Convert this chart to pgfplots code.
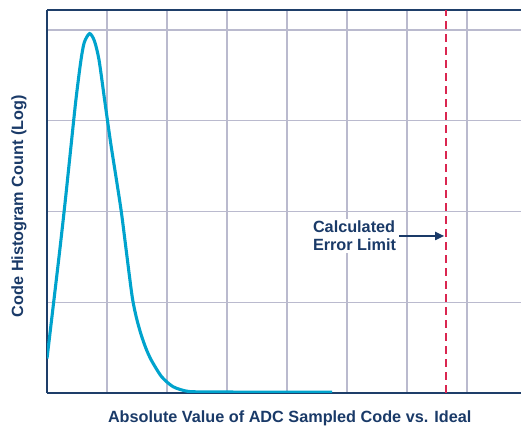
\documentclass[border=0pt]{standalone}
\usepackage{pgfplots}
\pgfplotsset{compat=1.18}
\usepackage{fontspec}
\setmainfont{Liberation Sans}[BoldFont={Liberation Sans Bold}]
\newfontfamily\labfont{Liberation Sans Bold}
\usetikzlibrary{arrows.meta}
\definecolor{navy}{RGB}{26,58,104}
\definecolor{spine}{RGB}{30,62,105}
\definecolor{gridc}{RGB}{186,186,206}
\definecolor{curve}{RGB}{0,163,205}
\definecolor{limit}{RGB}{218,38,80}
\begin{document}
\begin{tikzpicture}
\begin{axis}[
  at={(0,0)}, anchor=south west,
  scale only axis, width=474bp, height=383bp,
  xmin=0, xmax=7.9, ymin=0, ymax=4.22,
  xtick={1,2,3,4,5,6,7}, ytick={1,2,3,4},
  xticklabels={}, yticklabels={},
  major tick length=0pt,
  grid=major,
  major grid style={draw=gridc, line width=1.3bp},
  axis x line=box, axis y line=left,
  axis line style={draw=spine, line width=1.8bp, -},
  xlabel={Absolute Value of ADC Sampled Code vs. Ideal},
  ylabel={Code Histogram Count (Log)},
  label style={text=navy, font=\labfont\fontsize{16.3pt}{18pt}\selectfont},
  xlabel style={at={(rel axis cs:0.512,0)}, anchor=center, yshift=-25bp},
  ylabel style={at={(rel axis cs:0,0.488)}, anchor=center, yshift=28bp},
]
\addplot[curve, line width=3.1bp, smooth, tension=0.45] coordinates {
 (0,0.38) (0.2,1.50) (0.3,2.09) (0.4,2.72) (0.48,3.22) (0.56,3.64)
 (0.62,3.86) (0.71,3.96) (0.79,3.88) (0.867,3.67) (0.96,3.23) (1.06,2.76)
 (1.15,2.38) (1.24,1.99) (1.33,1.52) (1.42,1.06) (1.49,0.83) (1.57,0.64) (1.65,0.49) (1.74,0.36)
 (1.91,0.18) (2.10,0.07) (2.33,0.02) (2.6,0.012) (3.5,0.01) (4.75,0.01)
};
\addplot[limit, line width=2bp, dash pattern=on 8bp off 5bp] coordinates {(6.65,0) (6.65,4.22)};
\node[anchor=west, align=left, fill=white, inner xsep=3bp, inner ysep=2bp, text=navy,
  font=\labfont\fontsize{16.3pt}{18pt}\selectfont] at (axis cs:4.38,1.73) {Calculated\\Error Limit};
\draw[navy, line width=1.8bp, -{Triangle[length=9bp,width=8bp]}] (axis cs:5.87,1.73) -- (axis cs:6.62,1.73);
\end{axis}
\pgfresetboundingbox
\path[use as bounding box] (-47bp,-34bp) rectangle (474bp,393bp);
\end{tikzpicture}
\end{document}
